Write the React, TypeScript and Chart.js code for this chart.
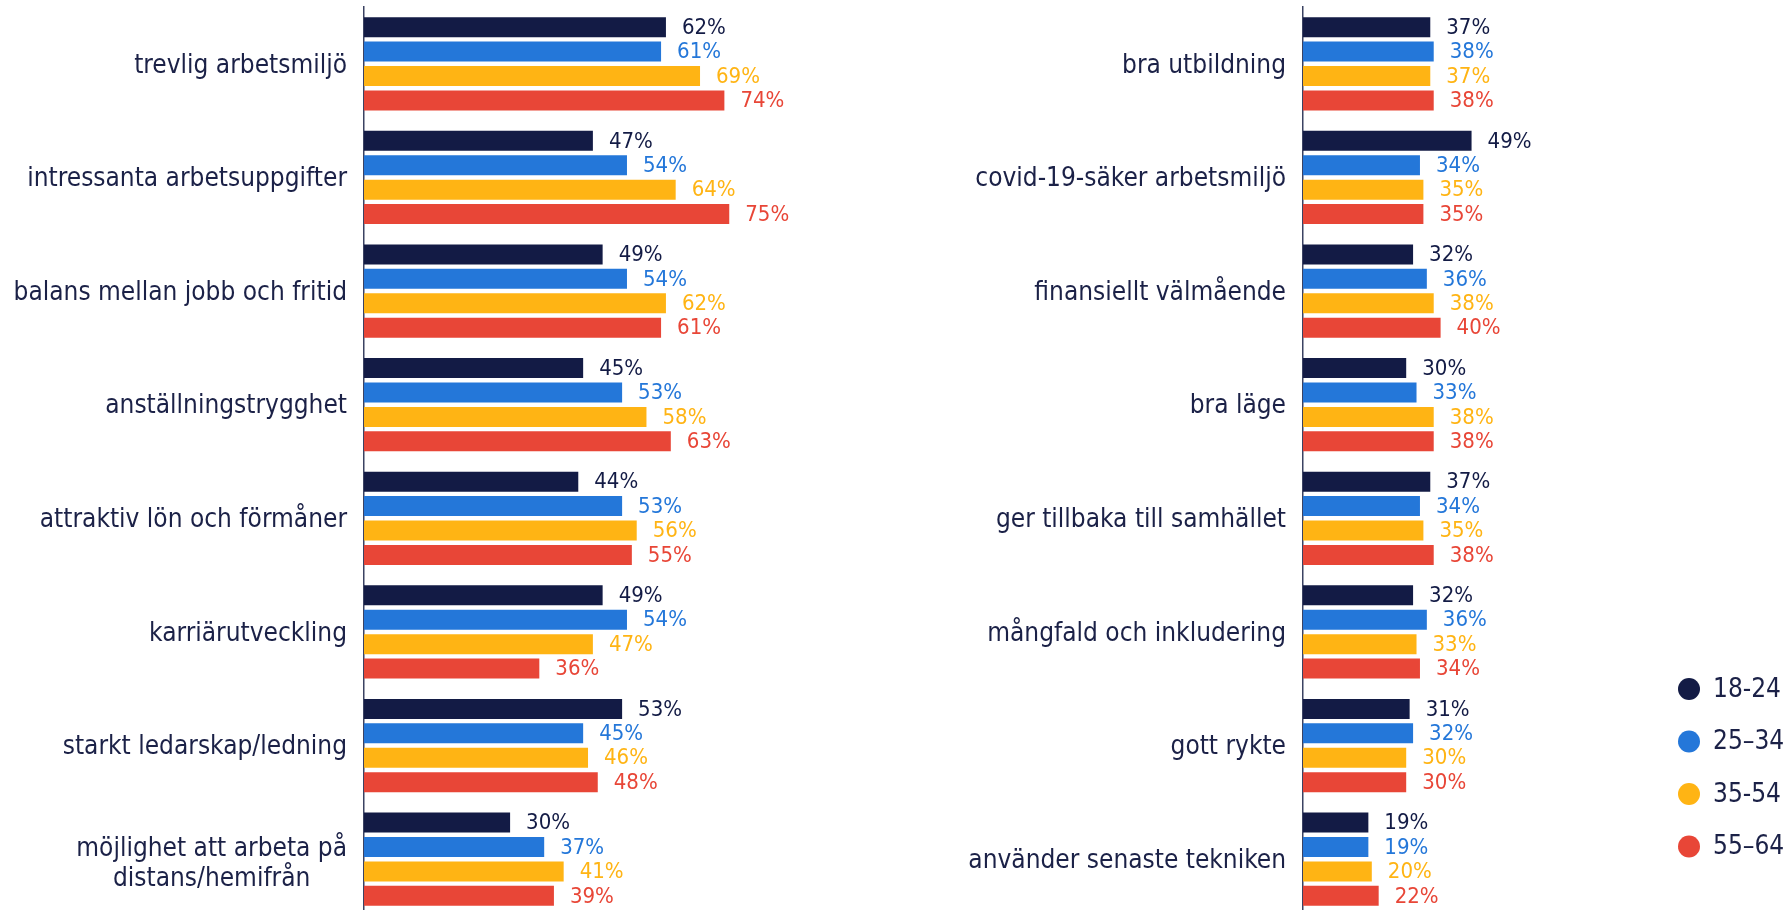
import { useEffect, useRef } from "react";
import { Chart, registerables } from "chart.js";

Chart.register(...registerables);

const seriesLabels = ["18-24", "25–34", "35-54", "55–64"];
const seriesColors = ["#131b45", "#2477d9", "#ffb414", "#e84637"];

const leftCategories: (string | string[])[] = [
  "trevlig arbetsmiljö",
  "intressanta arbetsuppgifter",
  "balans mellan jobb och fritid",
  "anställningstrygghet",
  "attraktiv lön och förmåner",
  "karriärutveckling",
  "starkt ledarskap/ledning",
  ["möjlighet att arbeta på", "distans/hemifrån"],
];
const left1824 = [62, 47, 49, 45, 44, 49, 53, 30];
const left2534 = [61, 54, 54, 53, 53, 54, 45, 37];
const left3554 = [69, 64, 62, 58, 56, 47, 46, 41];
const left5564 = [74, 75, 61, 63, 55, 36, 48, 39];

const rightCategories: (string | string[])[] = [
  "bra utbildning",
  "covid-19-säker arbetsmiljö",
  "finansiellt välmående",
  "bra läge",
  "ger tillbaka till samhället",
  "mångfald och inkludering",
  "gott rykte",
  "använder senaste tekniken",
];
const right1824 = [37, 49, 32, 30, 37, 32, 31, 19];
const right2534 = [38, 34, 36, 33, 34, 36, 32, 19];
const right3554 = [37, 35, 38, 38, 35, 33, 30, 20];
const right5564 = [38, 35, 40, 38, 38, 34, 30, 22];

const xMax = 100;

const FAMILY = "'DejaVu Sans Condensed', 'DejaVu Sans', sans-serif";
const TEXT_COLOR = "#1b2147";
const AXIS_COLOR = "#3b4262";

const valueLabelPlugin = {
  id: "valueLabels",
  afterDatasetsDraw(chart: any) {
    const ctx = chart.ctx;
    ctx.save();
    ctx.font = `22px ${FAMILY}`;
    ctx.textAlign = "left";
    ctx.textBaseline = "middle";
    chart.data.datasets.forEach((ds: any, di: number) => {
      const meta = chart.getDatasetMeta(di);
      ctx.fillStyle = ds.backgroundColor;
      meta.data.forEach((bar: any, i: number) => {
        ctx.fillText(`${ds.data[i]}%`, bar.x + 16, bar.y + 1);
      });
    });
    ctx.restore();
  },
};

const categoryLabelPlugin = {
  id: "categoryLabels",
  afterDraw(chart: any) {
    const ctx = chart.ctx;
    const yScale = chart.scales.y;
    const right = chart.chartArea.left - 17;
    ctx.save();
    ctx.font = `26px ${FAMILY}`;
    ctx.fillStyle = TEXT_COLOR;
    ctx.textBaseline = "middle";
    (chart.data.labels as (string | string[])[]).forEach((label, i) => {
      const yc = yScale.getPixelForTick(i) + 2;
      const lines = Array.isArray(label) ? label : [label];
      if (lines.length === 1) {
        ctx.textAlign = "right";
        ctx.fillText(lines[0], right, yc);
      } else {
        const widest = Math.max(...lines.map((l) => ctx.measureText(l).width));
        const cx = right - widest / 2;
        ctx.textAlign = "center";
        const lh = 30;
        lines.forEach((l, li) => {
          ctx.fillText(l, cx, yc + 3 + (li - (lines.length - 1) / 2) * lh);
        });
      }
    });
    ctx.restore();
  },
};

function makeLegendPlugin(canvasLeft: number) {
  return {
    id: "customLegend",
    afterDraw(chart: any) {
      const ctx = chart.ctx;
      ctx.save();
      ctx.font = `26px ${FAMILY}`;
      ctx.textBaseline = "middle";
      ctx.textAlign = "left";
      chart.data.datasets.forEach((ds: any, i: number) => {
        const cy = 689 + i * 52.5;
        ctx.fillStyle = ds.backgroundColor;
        ctx.beginPath();
        ctx.arc(1689 - canvasLeft, cy, 11, 0, Math.PI * 2);
        ctx.fill();
        ctx.fillStyle = TEXT_COLOR;
        ctx.fillText(ds.label, 1713 - canvasLeft, cy + 1);
      });
      ctx.restore();
    },
  };
}

function buildConfig(
  labels: (string | string[])[],
  series: number[][],
  axisWidth: number,
  padRight: number,
  extraPlugins: any[]
): any {
  return {
    type: "bar",
    data: {
      labels,
      datasets: series.map((data, i) => ({
        label: seriesLabels[i],
        data,
        backgroundColor: seriesColors[i],
        borderWidth: 0,
        categoryPercentage: 0.86,
        barPercentage: 0.82,
      })),
    },
    options: {
      indexAxis: "y",
      responsive: true,
      maintainAspectRatio: false,
      animation: false,
      layout: { padding: { top: 7, bottom: 0, left: 0, right: padRight } },
      plugins: {
        legend: { display: false },
        tooltip: { enabled: false },
      },
      scales: {
        x: {
          display: false,
          min: 0,
          max: xMax,
        },
        y: {
          display: true,
          grid: { display: false },
          ticks: { display: false },
          border: { display: true, color: AXIS_COLOR, width: 1.5 },
          afterFit: (scale: any) => {
            scale.width = axisWidth;
          },
        },
      },
    },
    plugins: [valueLabelPlugin, categoryLabelPlugin, ...extraPlugins],
  };
}

function ChartBox(props: {
  left: number;
  width: number;
  height: number;
  config: () => any;
}) {
  const ref = useRef<HTMLCanvasElement | null>(null);
  useEffect(() => {
    if (!ref.current) return;
    const chart = new Chart(ref.current, props.config());
    return () => chart.destroy();
  }, []);
  return (
    <div
      style={{
        position: "absolute",
        left: props.left,
        top: 0,
        width: props.width,
        height: props.height,
      }}
    >
      <canvas ref={ref} />
    </div>
  );
}

export default function App() {
  const leftCanvasLeft = 0;
  const rightCanvasLeft = 870;
  return (
    <div
      style={{
        position: "fixed",
        left: 0,
        top: 0,
        width: 1790,
        height: 910,
        overflow: "hidden",
        background: "#ffffff",
      }}
    >
      <ChartBox
        left={leftCanvasLeft}
        width={860}
        height={916}
        config={() =>
          buildConfig(
            leftCategories,
            [left1824, left2534, left3554, left5564],
            364 - leftCanvasLeft,
            860 - 851,
            []
          )
        }
      />
      <ChartBox
        left={rightCanvasLeft}
        width={920}
        height={916}
        config={() =>
          buildConfig(
            rightCategories,
            [right1824, right2534, right3554, right5564],
            1303 - rightCanvasLeft,
            1790 - 1647,
            [makeLegendPlugin(rightCanvasLeft)]
          )
        }
      />
    </div>
  );
}
